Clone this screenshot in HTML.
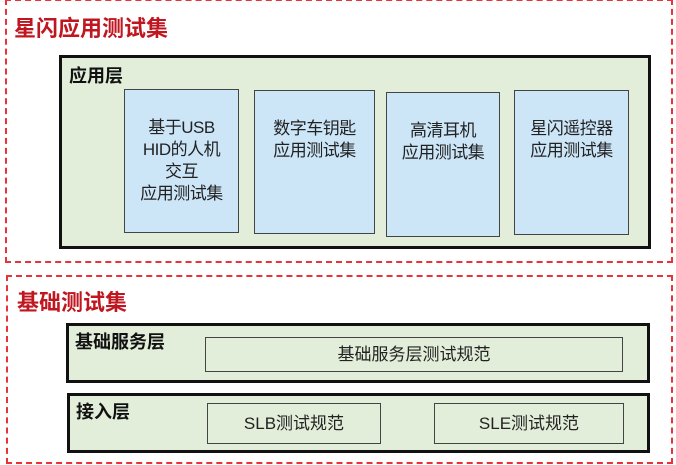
<!DOCTYPE html>
<html><head><meta charset="utf-8"><style>
body{margin:0;width:676px;height:465px;background:#fff;position:relative;overflow:hidden;font-family:"Liberation Sans","Noto Sans CJK SC",sans-serif;}
div{position:absolute;box-sizing:border-box;}
.dash{border:2px dashed #e8333b;}
.title{color:#c0161f;font-weight:bold;font-size:22px;line-height:26px;}
.layer{background:#e2eed9;border:3px solid #111;}
.lab{font-weight:bold;font-size:18px;line-height:22px;color:#111;}
.app{background:#cce6f8;border:1.5px solid #444;text-align:center;font-size:17px;line-height:22px;color:#222;padding-top:27px;letter-spacing:-0.5px;}
.spec{background:#e2eed9;border:1.5px solid #444;text-align:center;font-size:17px;color:#222;}
</style></head><body>
<div class="dash" style="left:5px;top:-1px;width:668px;height:264px;"></div>
<div class="title" style="left:14px;top:16px;">星闪应用测试集</div>
<div class="layer" style="left:59px;top:55px;width:592px;height:194px;"></div>
<div class="lab" style="left:69px;top:65px;">应用层</div>
<div class="app" style="left:124px;top:89px;width:115px;height:144px;">基于USB<br>HID的人机<br>交互<br>应用测试集</div>
<div class="app" style="left:254px;top:90px;width:121px;height:144px;">数字车钥匙<br>应用测试集</div>
<div class="app" style="left:386px;top:92px;width:114px;height:145px;">高清耳机<br>应用测试集</div>
<div class="app" style="left:514px;top:90px;width:115px;height:145px;">星闪遥控器<br>应用测试集</div>

<div class="dash" style="left:6px;top:275px;width:667px;height:189px;"></div>
<div class="title" style="left:17px;top:290px;">基础测试集</div>
<div class="layer" style="left:66px;top:323px;width:584px;height:60px;"></div>
<div class="lab" style="left:75px;top:331px;">基础服务层</div>
<div class="spec" style="left:205px;top:337px;width:418px;height:35px;line-height:33px;">基础服务层测试规范</div>
<div class="layer" style="left:67px;top:393px;width:583px;height:60px;"></div>
<div class="lab" style="left:76px;top:401px;">接入层</div>
<div class="spec" style="left:207px;top:403px;width:174px;height:41px;line-height:39px;">SLB测试规范</div>
<div class="spec" style="left:434px;top:403px;width:190px;height:41px;line-height:39px;">SLE测试规范</div>
</body></html>
